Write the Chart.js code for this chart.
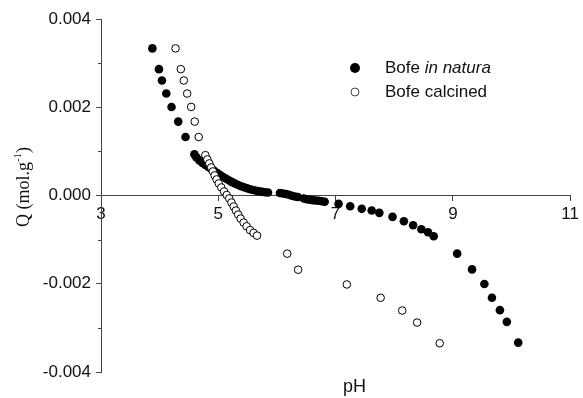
<!DOCTYPE html>
<html>
<head>
<meta charset="utf-8">
<script src="https://cdn.jsdelivr.net/npm/chart.js@4/dist/chart.umd.min.js"></script>
<style>
  html, body { margin: 0; padding: 0; background: #fff; }
  canvas { display: block; }
</style>
</head>
<body>
<canvas id="qChart" width="583" height="398"></canvas>
<script>
// Bofe in natura (filled circles)
const phNatura = [3.876, 3.988, 4.039, 4.113, 4.203, 4.317, 4.441,
  4.593, 4.627, 4.678, 4.729, 4.780, 4.831, 4.881, 4.932, 4.983, 5.034, 5.085, 5.136, 5.186,
  5.237, 5.288, 5.339, 5.390, 5.441, 5.492, 5.542, 5.593, 5.644, 5.695, 5.746, 5.797, 5.847,
  6.051, 6.102, 6.153, 6.203, 6.254, 6.305, 6.356,
  6.458, 6.508, 6.559, 6.610, 6.661, 6.712, 6.763, 6.814,
  7.051, 7.249, 7.446, 7.615, 7.746, 7.971, 8.164, 8.322, 8.463, 8.576, 8.673,
  9.073, 9.327, 9.537, 9.666, 9.802, 9.920, 10.114];
const qNatura = [0.003334, 0.002864, 0.002607, 0.002311, 0.002007, 0.001675, 0.001325,
  0.000932, 0.000864, 0.000795, 0.000739, 0.000693, 0.000648, 0.000602, 0.000557, 0.000511, 0.000466, 0.000420, 0.000380, 0.000341,
  0.000302, 0.000268, 0.000239, 0.000211, 0.000186, 0.000164, 0.000143, 0.000125, 0.000109, 0.000095, 0.000084, 0.000075, 0.000068,
  0.000057, 0.000045, 0.000034, 0.000016, -0.000005, -0.000023, -0.000034,
  -0.000068, -0.000084, -0.000095, -0.000105, -0.000114, -0.000120, -0.000130, -0.000141,
  -0.000189, -0.000243, -0.000302, -0.000341, -0.000393, -0.000484, -0.000584, -0.000675, -0.000766, -0.000834, -0.000925,
  -0.001318, -0.001675, -0.002007, -0.002318, -0.002598, -0.002864, -0.003334];

// Bofe calcined (open circles)
const phCalcined = [4.271, 4.361, 4.412, 4.469, 4.537, 4.598, 4.666,
  4.780, 4.814, 4.847, 4.878, 4.907, 4.937, 4.971, 5.008, 5.051, 5.098, 5.144,
  5.186, 5.225, 5.263, 5.300, 5.339, 5.381, 5.432, 5.483, 5.542, 5.602, 5.661,
  6.175, 6.361, 7.192, 7.768, 8.136, 8.390, 8.775];
const qCalcined = [0.003334, 0.002864, 0.002607, 0.002311, 0.002007, 0.001675, 0.001325,
  0.000914, 0.000818, 0.000727, 0.000636, 0.000545, 0.000455, 0.000364, 0.000273, 0.000182, 0.000091, 0.000011,
  -0.000068, -0.000159, -0.000250, -0.000341, -0.000432, -0.000523, -0.000614, -0.000698, -0.000784, -0.000848, -0.000909,
  -0.001318, -0.001682, -0.002016, -0.002318, -0.002607, -0.002880, -0.003348];

const seriesNames = ['Bofe ', 'in natura', 'Bofe calcined'];
const xTitle = 'pH';
const yTitle = 'Q (mol.g';
const yTitleSup = '-1';

const axisColor = '#444';
const font = { family: 'Liberation Sans, Arial, sans-serif', size: 17 };

function toPoints(xs, ys) {
  return xs.map((x, i) => ({ x: x, y: ys[i] }));
}

// minor ticks, titles and legend
const extras = {
  id: 'extras',
  afterDraw(chart) {
    const c = chart.ctx;
    const ys = chart.scales.y;
    const xs = chart.scales.x;
    const left = chart.chartArea.left;
    c.save();
    c.strokeStyle = axisColor;
    c.lineWidth = 1;
    for (let v = -3; v <= 3; v += 2) {
      const py = Math.round(ys.getPixelForValue(v / 1000)) + 0.5;
      c.beginPath();
      c.moveTo(left - 3, py);
      c.lineTo(left, py);
      c.stroke();
    }

    c.fillStyle = '#111';
    c.font = '18px Liberation Sans, Arial, sans-serif';
    c.textAlign = 'center';
    c.textBaseline = 'alphabetic';
    c.fillText(xTitle, (xs.left + xs.right) / 2 + 19, 392);

    // y title, rotated, with superscript
    c.save();
    c.translate(29, 187);
    c.rotate(-Math.PI / 2);
    c.font = '18px Liberation Serif, Times New Roman, serif';
    const w1 = c.measureText(yTitle).width;
    c.font = '11px Liberation Serif, Times New Roman, serif';
    const w2 = c.measureText(yTitleSup).width;
    c.font = '18px Liberation Serif, Times New Roman, serif';
    const w3 = c.measureText(')').width;
    let x0 = -(w1 + w2 + w3) / 2;
    c.textAlign = 'left';
    c.fillText(yTitle, x0, 0);
    c.font = '11px Liberation Serif, Times New Roman, serif';
    c.fillText(yTitleSup, x0 + w1, -8);
    c.font = '18px Liberation Serif, Times New Roman, serif';
    c.fillText(')', x0 + w1 + w2, 0);
    c.restore();

    // legend
    c.fillStyle = '#000';
    c.beginPath();
    c.arc(355, 68, 5, 0, Math.PI * 2);
    c.fill();
    c.fillStyle = '#fff';
    c.beginPath();
    c.arc(355, 92, 4, 0, Math.PI * 2);
    c.fill();
    c.stroke();
    c.fillStyle = '#111';
    c.textAlign = 'left';
    c.textBaseline = 'middle';
    c.font = '17px Liberation Sans, Arial, sans-serif';
    c.fillText(seriesNames[0], 385, 68);
    const wb = c.measureText(seriesNames[0]).width;
    c.font = 'italic 17px Liberation Sans, Arial, sans-serif';
    c.fillText(seriesNames[1], 385 + wb, 68);
    c.font = '17px Liberation Sans, Arial, sans-serif';
    c.fillText(seriesNames[2], 385, 92);
    c.restore();
  }
};

const chart = new Chart(document.getElementById('qChart'), {
  type: 'scatter',
  data: {
    datasets: [
      {
        label: 'Bofe calcined',
        data: toPoints(phCalcined, qCalcined),
        pointRadius: 3.8,
        pointBackgroundColor: '#fff',
        pointBorderColor: '#000',
        pointBorderWidth: 1,
        order: 0
      },
      {
        label: 'Bofe in natura',
        data: toPoints(phNatura, qNatura),
        pointRadius: 4.3,
        pointBackgroundColor: '#000',
        pointBorderColor: '#000',
        pointBorderWidth: 0,
        order: 1
      }
    ]
  },
  options: {
    responsive: false,
    animation: false,
    layout: { padding: { left: 0, top: 19, right: 10, bottom: 26 } },
    plugins: { legend: { display: false }, tooltip: { enabled: false } },
    scales: {
      x: {
        type: 'linear',
        position: { y: 0 },
        min: 3,
        max: 11,
        ticks: { stepSize: 2, color: '#111', font: font, padding: 4, maxRotation: 0 },
        grid: { drawOnChartArea: false, tickLength: 5, color: axisColor },
        border: { color: axisColor, width: 1 },
        afterFit(scale) { scale.height = 0; }
      },
      y: {
        position: 'left',
        min: -0.004,
        max: 0.004,
        ticks: {
          stepSize: 0.002,
          color: '#111',
          font: font,
          padding: 5,
          callback: (v) => v.toFixed(3)
        },
        grid: { drawOnChartArea: false, tickLength: 5, color: axisColor },
        border: { color: axisColor, width: 1 },
        afterFit(scale) { scale.width = 101; }
      }
    }
  },
  plugins: [extras]
});
</script>
</body>
</html>
